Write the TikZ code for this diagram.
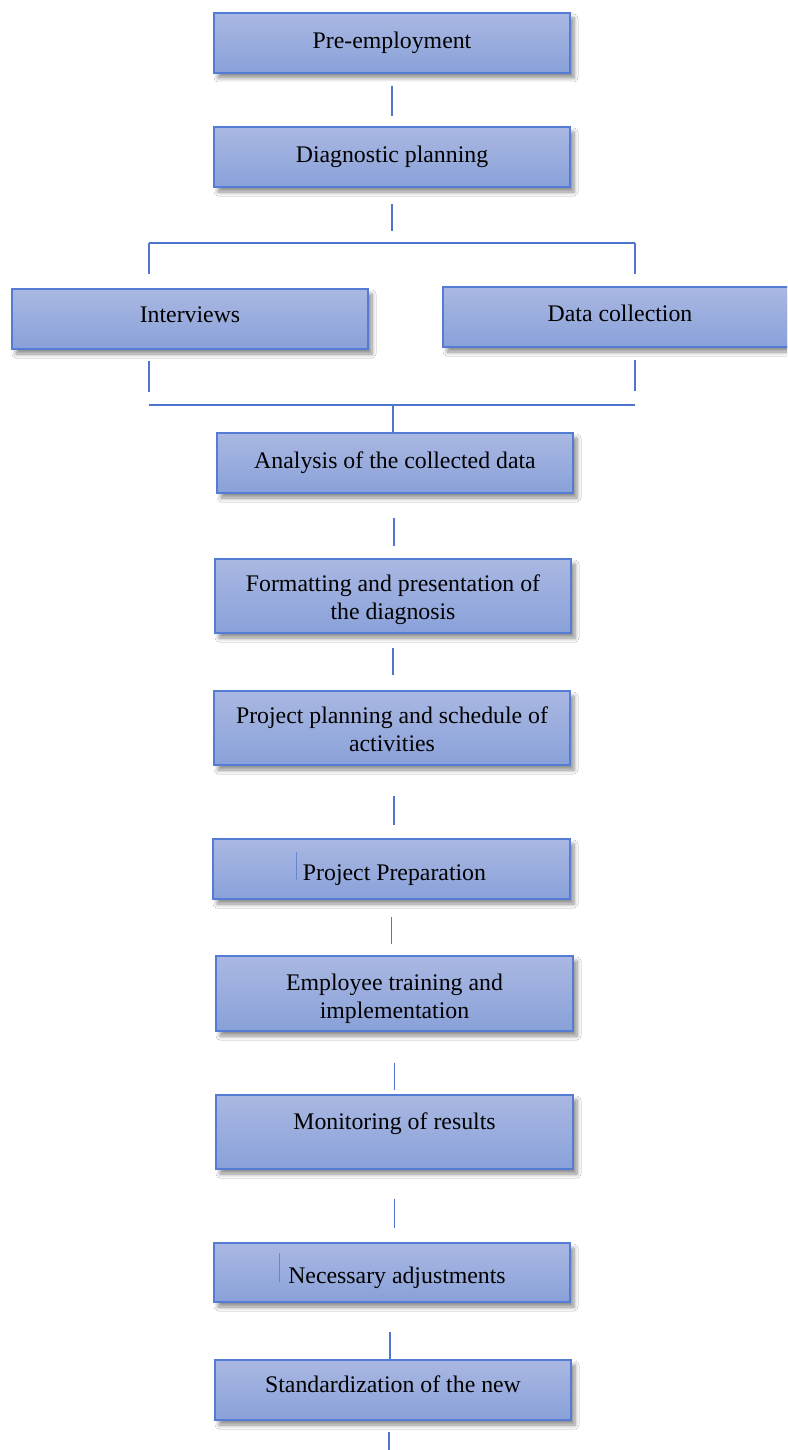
\documentclass[tikz,border=0pt]{standalone}
\usepackage{fontspec}
\setmainfont{Liberation Serif}
\usetikzlibrary{shadows,shadows.blur}
\definecolor{boxtop}{RGB}{170,184,226}
\definecolor{boxbot}{RGB}{137,161,217}
\definecolor{boxline}{RGB}{84,124,212}
\definecolor{conn}{RGB}{78,118,206}
\tikzset{
  flowbox/.style={draw=boxline, line width=1.3pt, top color=boxtop, bottom color=boxbot,
    anchor=north west, inner sep=0pt, outer sep=0pt, align=center,
    font=\fontsize{23.8}{28}\selectfont, text=black,
    blur shadow={shadow xshift=4pt, shadow yshift=-5pt, shadow blur radius=4pt,
      shadow blur steps=6, shadow opacity=45}},
  connline/.style={draw=conn, line width=1.1pt},
  caret/.style={draw=conn, line width=0.5pt, opacity=0.7}
}
% name, x1, y1, x2, y2, text, text dx, text raise
\newcommand{\fbx}[8]{%
  \node[flowbox, minimum width={(#4-#2)*1pt}, minimum height={(#5-#3)*1pt}] (#1) at (#2,#3)
    {\hspace*{#7pt}\raisebox{#8pt}[\height][\depth]{\begin{tabular}{@{}c@{}}#6\end{tabular}}\hspace*{-#7pt}};}
\begin{document}
\begin{tikzpicture}[x=1pt,y=-1pt]
\useasboundingbox[fill=white] (0,0) rectangle (787,1450);
\begin{scope}
\clip (0,0) rectangle (787,1450);
\fbx{pre}{214}{13}{570}{73}{Pre-employment}{0}{0}
\fbx{diag}{214}{127}{570}{187}{Diagnostic planning}{0}{0}
\fbx{intv}{12}{289}{368}{349}{Interviews}{0}{2}
\fbx{data}{443}{287}{815}{347}{Data collection}{-9}{1}
\fbx{anal}{217}{433}{573}{493}{Analysis of the collected data}{0}{0}
\fbx{form}{215}{559}{571}{633}{Formatting and presentation of\\the diagnosis}{0}{-4}
\fbx{plan}{214}{691}{570}{765}{Project planning and schedule of\\activities}{0}{-4}
\fbx{prep}{213}{839}{570}{899}{Project Preparation}{3}{-6}
\fbx{empl}{216}{956}{573}{1031}{Employee training and\\implementation}{0}{-5}
\fbx{moni}{216}{1095}{573}{1169}{Monitoring of results\\\mbox{}}{0}{-6}
\fbx{nece}{214}{1243}{570}{1302}{Necessary adjustments}{5}{-5}
\fbx{stnd}{215}{1360}{571}{1420}{Standardization of the new}{0}{3}

% junction coordinates
\coordinate (splitc) at (392,243);
\coordinate (splitl) at (149,243);
\coordinate (splitr) at (635,243);
\coordinate (joinc) at (393,405);
\coordinate (joinl) at (149,405);
\coordinate (joinr) at (635,405);
\coordinate (tailend) at (389,1460);

% connectors
\draw[connline, shorten <=13pt, shorten >=11pt] (pre.south) -- (pre.south |- diag.north);
\draw[connline, shorten <=17pt, shorten >=12pt] (diag.south) -- (splitc);
\draw[connline] (splitl) -- (splitr);
\draw[connline, shorten >=15pt] (splitl) -- (splitl |- intv.north);
\draw[connline, shorten >=13pt] (splitr) -- (splitr |- data.north);
\draw[connline, shorten <=12pt, shorten >=13pt] (splitl |- intv.south) -- (joinl);
\draw[connline, shorten <=13pt, shorten >=14pt] (joinr |- data.south) -- (joinr);
\draw[connline] (joinl) -- (joinr);
\draw[connline] (joinc) -- (joinc |- anal.north);
\draw[connline, shorten <=25pt, shorten >=13pt] (anal.south) ++(-1,0) coordinate (a1) -- (a1 |- form.north);
\draw[connline, shorten <=15pt, shorten >=16pt] (form.south) -- (form.south |- plan.north);
\draw[connline, shorten <=31pt, shorten >=14pt] (plan.south) ++(2,0) coordinate (p1) -- (p1 |- prep.north);
\draw[connline, shorten <=18pt, shorten >=12pt] (prep.south) -- (prep.south |- empl.north);
\draw[connline, shorten <=32pt, shorten >=5pt] (empl.south) -- (empl.south |- moni.north);
\draw[connline, shorten <=30pt, shorten >=15pt] (moni.south) -- (moni.south |- nece.north);
\draw[connline, shorten <=30pt, shorten >=1pt] (nece.south) ++(-2,0) coordinate (n1) -- (n1 |- stnd.north);
\draw[connline, shorten <=12pt] (stnd.south) ++(-4,0) coordinate (s1) -- (s1 |- tailend);

% small caret marks inside boxes
\draw[caret] (296,852) -- (296,880);
\draw[caret] (279,1253) -- (279,1282);
\end{scope}
\end{tikzpicture}
\end{document}
